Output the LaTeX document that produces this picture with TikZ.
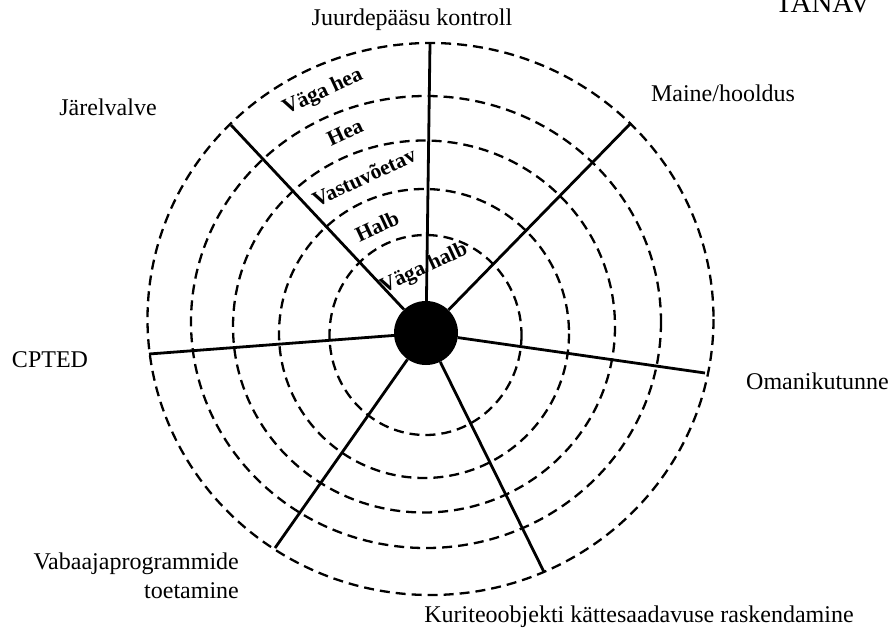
\documentclass[tikz,border=0pt]{standalone}
\usepackage{fontspec}
\setmainfont{Liberation Serif}
\begin{document}
\begin{tikzpicture}[x=1pt,y=-1pt,
  ring/.style={dash pattern=on 10pt off 6pt, line width=2.3pt},
  spoke/.style={line width=2.8pt},
  axislabel/.style={font=\fontsize{24}{29}\selectfont, inner sep=0pt},
  levellabel/.style={font=\fontsize{21.5}{25}\selectfont\bfseries, rotate=25, inner sep=0pt}]
\useasboundingbox (0,0) rectangle (890,635);
\foreach \cx/\cy/\rx/\ry in {425.5/335/96/100, 424/333.5/145/144.5, 424/326.5/191/186, 426/322/235/226, 430.5/319/283/276}
  \draw[ring] (\cx,\cy) ellipse [x radius=\rx, y radius=\ry];
\node[circle, fill=black, minimum size=64pt, inner sep=0pt] (hub) at (426,333) {};
\coordinate (access) at (430,43);
\coordinate (upkeep) at (631,123);
\coordinate (owner) at (705,373);
\coordinate (target) at (544,572);
\coordinate (leisure) at (275,548);
\coordinate (cpted) at (149,354);
\coordinate (watch) at (231,125);
\foreach \e in {access,upkeep,owner,target,leisure,cpted,watch}
  \draw[spoke] (hub) -- (\e);
\node[levellabel] (vgood) at (323,92) {Väga hea};
\node[levellabel] (good) at (345,132) {Hea};
\node[levellabel] (fair) at (364,177) {Vastuvõetav};
\node[levellabel] (bad) at (377,226) {Halb};
\node[levellabel] (vbad) at (424,269) {Väga halb};
\node[axislabel] (accesslbl) at (412,20) {Juurdepääsu kontroll};
\node[axislabel, font=\fontsize{29}{34}\selectfont, anchor=base west] (street) at (775,12) {TANAV};
\node[axislabel] (upkeeplbl) at (723,93) {Maine/hooldus};
\node[axislabel] (watchlbl) at (108,107) {Järelvalve};
\node[axislabel] (cptedlbl) at (50,360) {CPTED};
\node[axislabel, anchor=west] (ownerlbl) at (746,381) {Omanikutunne};
\node[axislabel, align=right, anchor=east] (leisurelbl) at (239,576) {Vabaajaprogrammide\\toetamine};
\node[axislabel] (targetlbl) at (639,617) {Kuriteoobjekti kättesaadavuse raskendamine};
\end{tikzpicture}
\end{document}
